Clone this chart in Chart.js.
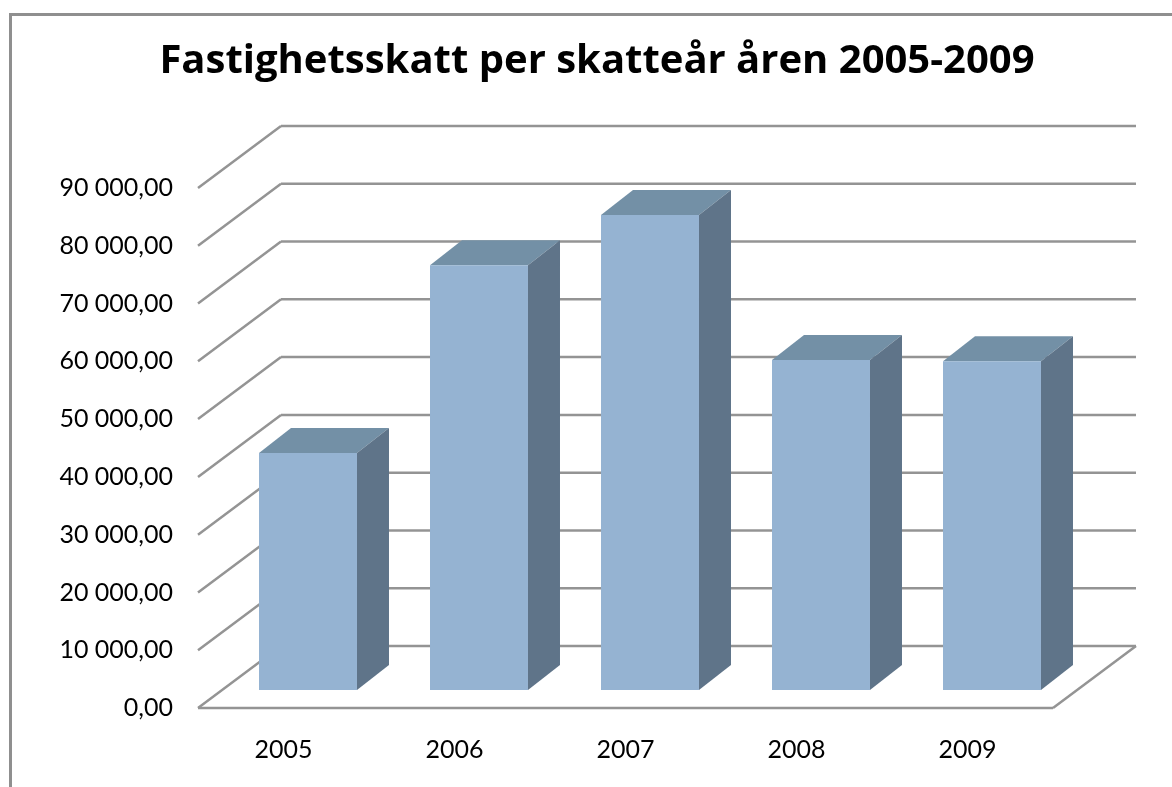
<!DOCTYPE html>
<html lang="sv">
<head>
<meta charset="utf-8">
<title>Fastighetsskatt</title>
<script src="https://cdn.jsdelivr.net/npm/chart.js@4/dist/chart.umd.min.js"></script>
<style>
    html, body { margin: 0; padding: 0; background: #fff; overflow: hidden; }
    #frame { position: absolute; left: 9px; top: 13px; right: 0; bottom: 0; border-left: 3px solid #8f8f8f; border-top: 3px solid #8f8f8f; }
    canvas { position: absolute; left: 0; top: 0; }
</style>
</head>
<body>
<div id="frame"></div>
<canvas id="chart" width="1172" height="787"></canvas>
<script>
    const years = ['2005', '2006', '2007', '2008', '2009'];
    const skatt = [41000, 73500, 82200, 57100, 56900];
    const yMax = 90000;
    const yStep = 10000;
    const titleText = 'Fastighetsskatt per skatteår åren 2005-2009';

    const FONT = "Lato, 'Open Sans', sans-serif";
    const GRID = '#949494';
    const FRONT = '#95b3d2';
    const TOP = '#7390a6';
    const SIDE = '#5f7489';

    // fake 3D depth, px
    const FLOOR = { dx: 83, dy: -62 };
    const BAR_SHIFT = { dx: 24.5, dy: -18 };
    const BAR_DEPTH = { dx: 32, dy: -25 };
    const TITLE_CENTER = 597;

    function line(ctx, x1, y1, x2, y2) {
        ctx.beginPath();
        ctx.moveTo(x1, y1);
        ctx.lineTo(x2, y2);
        ctx.stroke();
    }

    function poly(ctx, pts, color) {
        ctx.fillStyle = color;
        ctx.beginPath();
        pts.forEach((p, i) => i ? ctx.lineTo(p[0], p[1]) : ctx.moveTo(p[0], p[1]));
        ctx.closePath();
        ctx.fill();
    }

    const box3d = {
        id: 'box3d',
        afterLayout(chart) {
            // title is centred on the whole frame, not on the plot
            const t = chart.titleBlock;
            t.right = t.left + 2 * (TITLE_CENTER - t.left);
        },
        beforeDatasetsDraw(chart) {
            const { ctx, chartArea, scales } = chart;
            const { left, right } = chartArea;

            ctx.save();
            ctx.strokeStyle = GRID;
            ctx.lineWidth = 2.5;
            scales.y.ticks.forEach(t => {
                const y = scales.y.getPixelForValue(t.value);
                line(ctx, left, y, left + FLOOR.dx, y + FLOOR.dy);
                line(ctx, left + FLOOR.dx, y + FLOOR.dy, right + FLOOR.dx, y + FLOOR.dy);
            });
            const y0 = scales.y.getPixelForValue(0);
            line(ctx, left, y0, right, y0);
            line(ctx, right, y0, right + FLOOR.dx, y0 + FLOOR.dy);
            ctx.restore();

            // top and side of each bar, sit behind the front face
            chart.getDatasetMeta(0).data.forEach(bar => {
                const p = bar.getProps(['x', 'y', 'base', 'width'], true);
                const l = p.x - p.width / 2 + BAR_SHIFT.dx;
                const r = p.x + p.width / 2 + BAR_SHIFT.dx;
                const t = p.y + BAR_SHIFT.dy;
                const b = p.base + BAR_SHIFT.dy;
                poly(ctx, [[l, t], [l + BAR_DEPTH.dx, t + BAR_DEPTH.dy], [r + BAR_DEPTH.dx, t + BAR_DEPTH.dy], [r, t]], TOP);
                poly(ctx, [[r, t], [r + BAR_DEPTH.dx, t + BAR_DEPTH.dy], [r + BAR_DEPTH.dx, b + BAR_DEPTH.dy], [r, b]], SIDE);
            });

            ctx.save();
            ctx.translate(BAR_SHIFT.dx, BAR_SHIFT.dy);
        },
        afterDatasetsDraw(chart) {
            chart.ctx.restore();
        }
    };

    function formatTick(v) {
        if (v === 0) return '0,00';
        return (v / 1000) + ' 000,00';
    }

    new Chart(document.getElementById('chart'), {
        type: 'bar',
        data: {
            labels: years,
            datasets: [{
                data: skatt,
                backgroundColor: FRONT,
                barPercentage: 0.573,
                categoryPercentage: 1,
                clip: false
            }]
        },
        options: {
            responsive: false,
            animation: false,
            layout: { padding: { top: 38, right: 119, bottom: 0 } },
            plugins: {
                legend: { display: false },
                tooltip: { enabled: false },
                title: {
                    display: true,
                    text: titleText,
                    color: '#000',
                    font: { family: "'Open Sans', sans-serif", size: 40, weight: 'bold' },
                    padding: { top: 0, bottom: 102 }
                }
            },
            scales: {
                x: {
                    afterFit(scale) { scale.height = 79; },
                    grid: { display: false, drawTicks: false },
                    border: { display: false },
                    ticks: { color: '#000', padding: 27, font: { family: FONT, size: 25 } }
                },
                y: {
                    min: 0,
                    max: yMax,
                    afterFit(scale) { scale.width = 198; },
                    grid: { display: false, drawTicks: false },
                    border: { display: false },
                    ticks: {
                        stepSize: yStep,
                        color: '#000',
                        padding: 25,
                        font: { family: FONT, size: 25 },
                        callback: formatTick
                    }
                }
            }
        },
        plugins: [box3d]
    });
</script>
</body>
</html>
